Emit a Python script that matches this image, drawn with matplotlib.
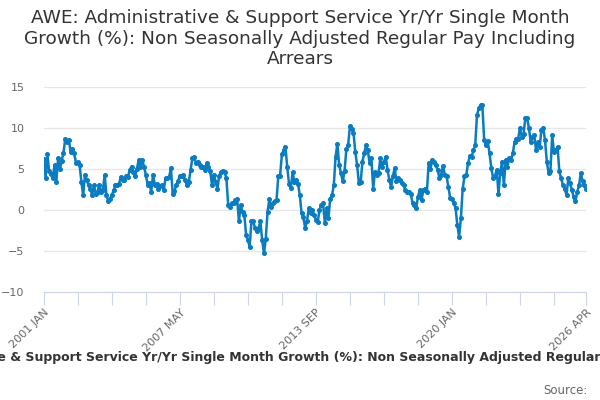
import matplotlib
matplotlib.use("Agg")
from matplotlib import pyplot as plt
import pandas as pd

# monthly values, 2001 JAN .. 2026 APR
vals_2001_2004 = [6.2, 3.9, 6.8, 4.7, 4.4, 3.9, 5.5, 3.4, 6.3, 5.0, 6.0, 7.0,
                  8.7, 8.3, 8.5, 7.1, 7.5, 6.9, 5.7, 5.8, 5.5, 3.4, 1.8, 4.3,
                  3.7, 3.0, 2.6, 1.8, 3.0, 2.0, 2.2, 3.1, 2.2, 2.4, 4.3, 1.8,
                  1.1, 1.4, 1.8, 2.4, 3.0, 3.1, 3.2]
vals_2004_2008 = [4.0, 3.7, 3.6, 4.1, 4.0, 4.9, 5.3, 4.6, 4.1, 5.0, 6.1, 5.3,
                  6.1, 5.3, 4.3, 3.1, 3.3, 2.2, 4.3, 3.1, 3.2, 2.6, 2.9, 3.1,
                  2.4, 3.9, 3.9, 4.0, 5.1, 2.0, 2.3, 3.1, 3.5, 4.2, 4.1, 4.3,
                  3.6, 3.0, 3.4, 4.9, 6.3, 6.5, 5.7]
vals_2008_2011 = [5.9, 5.5, 5.3, 5.3, 4.9, 5.7, 5.3, 4.7, 3.0, 4.3, 3.4, 2.6,
                  4.2, 4.6, 4.8, 4.6, 3.9, 0.6, 0.4, 0.8, 0.9, 1.2, 1.4, -1.4,
                  0.6, -0.3, -0.6, -3.0, -3.6, -4.5, -1.4, -1.4, -2.2, -2.6,
                  -2.2, -1.4, -3.7, -5.3, -3.5, -0.2, 1.3, 0.4, 0.8, 1.1]
vals_2011_2015 = [1.2, 4.1, 4.2, 6.8, 7.3, 7.7, 5.2, 3.2, 2.7, 4.6, 3.4, 3.7,
                  3.2, 1.8, -0.4, -0.9, -2.2, -1.4, 0.2, -0.4, 0.0, -0.6, -1.2,
                  -1.5, 0.0, 0.6, 0.8, -1.6, 0.2, -1.0, 1.4, 1.8, 3.0, 6.5,
                  8.1, 5.5, 4.5, 3.5, 4.7, 7.4, 7.9, 10.2, 9.9, 9.4, 7.1, 5.5]
vals_2015_2019 = [3.3, 3.4, 5.9, 6.9, 7.9, 7.3, 5.7, 6.3, 2.6, 4.6, 4.3, 4.5,
                  6.3, 5.3, 5.9, 6.5, 4.9, 3.7, 2.8, 4.1, 5.1, 3.5, 3.9, 3.7,
                  3.3, 3.0, 2.4, 2.2, 2.2, 2.0, 0.8, 0.6, 0.2, 1.6, 2.4, 1.2,
                  2.4, 2.6, 2.2, 5.7, 5.0, 6.1, 5.9]
vals_2019_2022 = [5.5, 4.9, 3.9, 4.3, 5.4, 4.3, 4.1, 2.8, 1.5, 1.4, 0.8, 0.3,
                  -1.8, -3.3, -1.0, 2.6, 4.1, 4.3, 5.7, 6.6, 6.5, 7.3, 7.9,
                  11.6, 12.4, 12.8, 12.8, 8.5, 7.9, 8.4, 6.9, 5.1, 3.9, 4.1,
                  4.9, 2.0, 4.5, 5.9, 3.0, 6.1, 5.3, 6.3]
vals_2022_2026 = [6.1, 6.9, 8.3, 8.7, 8.7, 10.0, 8.9, 9.3, 11.2, 11.2, 10.0,
                  8.3, 8.9, 9.1, 7.3, 8.3, 7.7, 9.8, 10.0, 8.5, 5.9, 4.5, 4.7,
                  9.1, 7.1, 7.3, 7.7, 4.7, 3.9, 3.0, 2.6, 1.8, 3.9, 3.3, 2.4,
                  1.6, 1.1, 2.2, 3.0, 4.5, 3.5, 3.0, 2.6, 2.4]

values = (vals_2001_2004 + vals_2004_2008 + vals_2008_2011 + vals_2011_2015
          + vals_2015_2019 + vals_2019_2022 + vals_2022_2026)
dates = pd.date_range("2001-01-01", "2026-04-01", freq="MS")
n = len(dates)
values = values[:n] + [values[-1]] * (n - len(values))

labels = [f"{d.year} {d.strftime('%b').upper()}" for d in dates]
label_idx = [0, 76, 152, 228, n - 1]
tick_idx = list(range(0, n - 1, 19)) + [n - 1]

title = ("AWE: Administrative & Support Service Yr/Yr Single Month\n"
         "Growth (%): Non Seasonally Adjusted Regular Pay Including\n"
         "Arrears")
legend_text = ("AWE: Administrative & Support Service Yr/Yr Single Month Growth (%): "
               "Non Seasonally Adjusted Regular Pay Including Arrears")

fig = plt.figure(figsize=(6, 4), dpi=100)
ax = fig.add_axes([0.073, 0.27, 0.904, 0.5125])

x = list(range(n))
ax.plot(x, values, color="#0a7cc1", lw=1.8, marker="o", ms=2.6, zorder=3)

ax.set_xlim(0, n - 1)
ax.set_ylim(-10, 15)
ax.set_yticks([-10, -5, 0, 5, 10, 15])
ax.grid(axis="y", color="#e6e6e6", lw=1)
ax.set_axisbelow(True)
for s in ["top", "right", "left"]:
    ax.spines[s].set_visible(False)
ax.spines["bottom"].set_color("#ccd6eb")
ax.tick_params(axis="y", length=0, labelsize=8, labelcolor="#666666", pad=14)

ax.set_xticks(tick_idx)
ax.set_xticklabels([labels[i] if i in label_idx else "" for i in tick_idx],
                   rotation=45, ha="right", rotation_mode="anchor")
ax.tick_params(axis="x", length=9, color="#ccd6eb", labelsize=8,
               labelcolor="#666666", pad=2)

fig.text(0.5, 0.978, title, ha="center", va="top", fontsize=13.3,
         color="#333333", linespacing=1.2)
fig.text(0.515, 0.105, legend_text, ha="center", va="center", fontsize=9,
         fontweight="bold", color="#333333")
fig.text(0.98, 0.025, "Source:", ha="right", va="center", fontsize=8.5,
         color="#666666")

fig.savefig("out.png", dpi=100)
